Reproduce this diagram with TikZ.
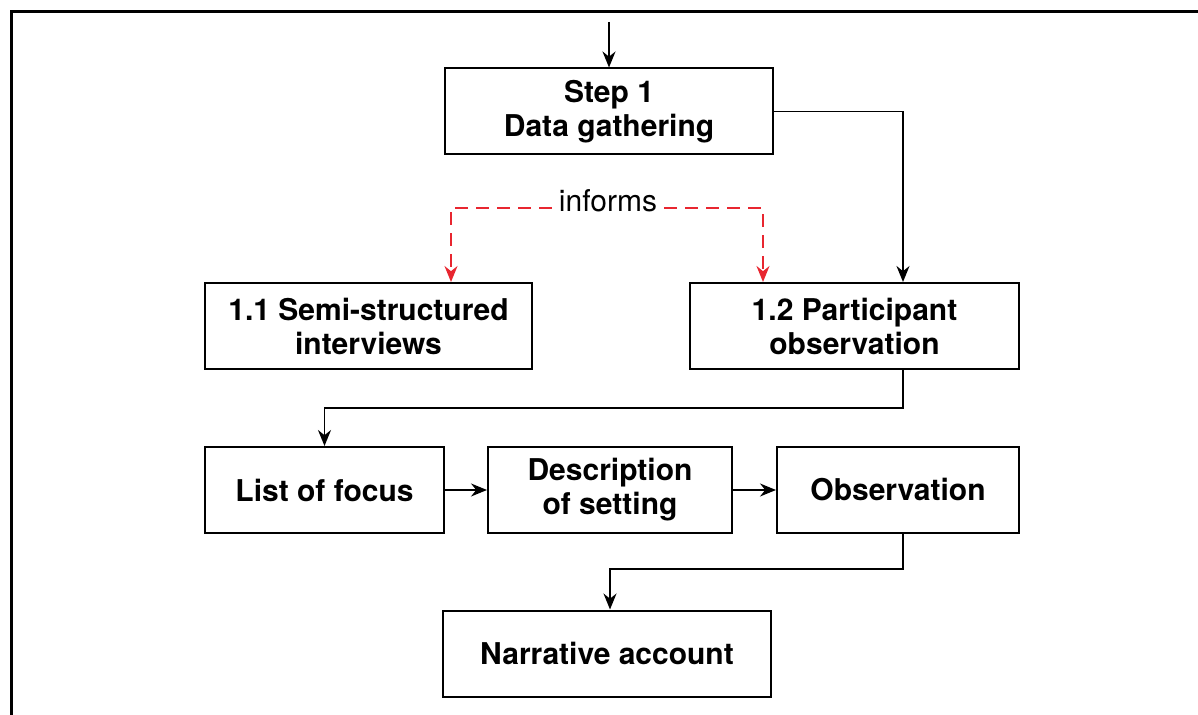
\documentclass[tikz,border=0pt]{standalone}
\usepackage{fontspec}
\setmainfont{TeX Gyre Heros}
\usetikzlibrary{positioning, arrows.meta}
\definecolor{informred}{RGB}{232,38,48}

\begin{document}
\begin{tikzpicture}[x=0.5pt, y=0.5pt, node distance=38pt and 21pt,
  box/.style={draw, line width=1pt, minimum height=43pt, align=center, font=\fontsize{15}{17}\selectfont\bfseries},
  arr/.style={-{Stealth[length=8pt, width=6.5pt]}, line width=0.9pt},
  informs/.style={-{Stealth[length=8pt, width=6.5pt]}, dash pattern=on 6.5pt off 4pt, color=informred, line width=0.9pt}]
  \useasboundingbox (0,0) rectangle (1198,-715);
  % open frame round the figure
  \draw[line width=1.5pt] (11,-715) -- (11,-12) -- (1198,-12);
  \node[box, minimum width=164pt] (step) at (609,-111.5) {Step 1\\Data gathering};
  \node[box, minimum width=163.5pt] (semi) at (368.5,-326) {1.1 Semi-structured\\interviews};
  \node[box, minimum width=164.5pt] (part) at (854.5,-326) {1.2 Participant\\observation};
  \node[box, minimum width=119.5pt, below=38pt of semi.south west, anchor=north west] (focus) {List of focus};
  \node[box, minimum width=122pt, right=21pt of focus] (desc) {Description\\of setting};
  \node[box, minimum width=121pt, right=21.5pt of desc] (obs) {Observation};
  \node[box, minimum width=164pt] (narr) at (607,-653.5) {Narrative account};
  \node[font=\fontsize{15}{17}\selectfont] (inf) at (608,-201) {informs};
  \coordinate (start) at (609,-22);
  \draw[arr] (start) -- (step);
  \draw[arr] (step.east) -| ([xshift=24.25pt]part.north);
  \draw[informs] ([yshift=-3.5pt]inf.west) -| ([xshift=41.25pt]semi.north);
  \draw[informs] ([yshift=-3.5pt]inf.east) -| ([xshift=-45.75pt]part.north);
  \draw[arr] ([xshift=24.25pt]part.south) -- ++(0,-38) -| (focus.north);
  \draw[arr] (focus) -- (desc);
  \draw[arr] (desc) -- (obs);
  \draw[arr] ([xshift=2.5pt]obs.south) -- ++(0,-35) -| ([xshift=1.5pt]narr.north);
\end{tikzpicture}
\end{document}
